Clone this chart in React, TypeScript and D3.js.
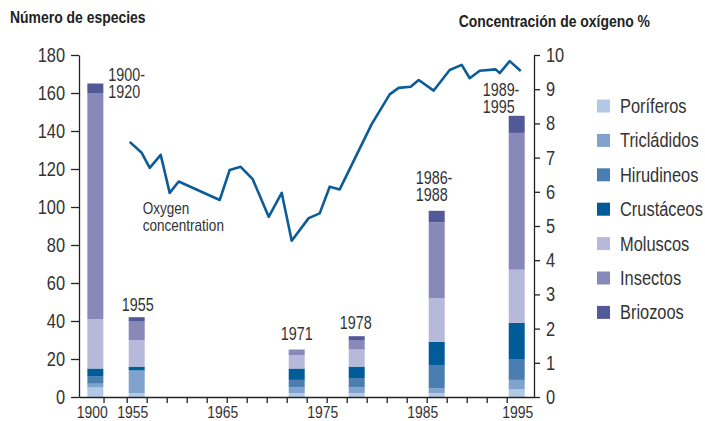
import React, { useRef, useEffect } from 'react';
import * as d3 from 'd3';

// periodos muestreados (una barra por periodo)
const periods = ['1900-1920', '1955', '1971', '1978', '1986-1988', '1989-1995'];
const barYears = [1900, 1956, 1972, 1978, 1986, 1994]; // donde cae el centro de cada barra

// numero de especies por grupo y periodo
const poriferos = [5, 2, 2, 2, 2, 4];
const tricladidos = [2, 12, 3, 3, 2.5, 5];
const hirudineos = [4, 0, 4, 5, 12, 11];
const crustaceos = [4, 2, 6, 6, 12.5, 19];
const moluscos = [26, 14, 7, 9, 23, 28];
const insectos = [119, 10, 3, 5, 40, 72];
const briozoos = [5, 2, 0, 2, 6, 9];

const groups = ['Poríferos', 'Tricládidos', 'Hirudineos', 'Crustáceos', 'Moluscos', 'Insectos', 'Briozoos'];
const groupColors = ['#b3c8e5', '#7fa3cc', '#4a7eb0', '#005c98', '#b6b9da', '#8888b9', '#515a96'];

// concentracion de oxigeno (%)
const oxyYears = [
	1955.3, 1956.5, 1957.3, 1958.4, 1959.3, 1960.2, 1964.3, 1965.3, 1966.4, 1967.6, 1969.2, 1970.5, 1971.5, 1973.2,
	1974.3, 1975.3, 1976.3, 1979.5, 1981.3, 1982.2, 1983.4, 1984.2, 1985.7, 1987.3, 1988.5, 1989.3, 1990.3, 1991.9,
	1992.3, 1993.3, 1994.4,
];
const oxygen = [
	7.46, 7.14, 6.7, 7.08, 5.97, 6.3, 5.76, 6.64, 6.73, 6.37, 5.27, 5.97, 4.57, 5.23, 5.37, 6.15, 6.07, 7.98, 8.85, 9.04,
	9.07, 9.27, 8.96, 9.56, 9.71, 9.32, 9.54, 9.58, 9.47, 9.82, 9.53,
];

const speciesTicks = [0, 20, 40, 60, 80, 100, 120, 140, 160, 180];
const oxygenTicks = [0, 1, 2, 3, 4, 5, 6, 7, 8, 9, 10];
const yearTicks = [
	1901, 1955, 1957, 1959, 1961, 1963, 1965, 1967, 1969, 1971, 1973, 1975, 1977, 1979, 1981, 1983, 1985, 1987, 1989,
	1991, 1993,
];
const yearLabels = [1900, 1955, 1965, 1975, 1985, 1995];

const FONT = "'Liberation Sans', Arial, sans-serif";
const INK = '#333';
const SQUEEZE = 0.82; // el original usa una letra condensada

function App() {
	const svgRef = useRef<SVGSVGElement>(null);

	useEffect(() => {
		const svg = d3.select(svgRef.current);
		svg.selectAll('*').remove();

		// eje x partido: 1900 aparte, luego 1953-1996
		const x = d3.scaleLinear().domain([1898, 1902, 1953.5, 1995.73]).range([79, 111.7, 111.7, 534]);
		const yL = d3.scaleLinear().domain([0, 180]).range([397, 55]);
		const yR = d3.scaleLinear().domain([0, 10]).range([397, 55]);
		const barW = 16;

		const series = [poriferos, tricladidos, hirudineos, crustaceos, moluscos, insectos, briozoos];
		const table = periods.map((p, i) => {
			const row: any = { period: p, year: barYears[i] };
			groups.forEach((g, j) => (row[g] = series[j][i]));
			return row;
		});
		const stacked = d3.stack().keys(groups)(table);

		svg
			.append('g')
			.selectAll('g')
			.data(stacked)
			.join('g')
			.attr('fill', (_, i) => groupColors[i])
			.selectAll('rect')
			.data((d) => d)
			.join('rect')
			.attr('x', (d: any) => x(d.data.year) - barW / 2)
			.attr('width', barW)
			.attr('y', (d) => yL(d[1]))
			.attr('height', (d) => yL(d[0]) - yL(d[1]));

		// linea de oxigeno
		const lineGen = d3
			.line<number>()
			.x((_, i) => x(oxyYears[i]))
			.y((d) => yR(d));
		svg
			.append('path')
			.datum(oxygen)
			.attr('fill', 'none')
			.attr('stroke', '#0b5c97')
			.attr('stroke-width', 2.6)
			.attr('stroke-linejoin', 'round')
			.attr('d', lineGen);

		// ejes
		const styleAxis = (g: any, size: number) => {
			g.selectAll('path, line').attr('stroke', '#222').attr('stroke-width', 1.3);
			g.selectAll('text').attr('font-family', FONT).attr('font-size', size).attr('fill', INK);
		};
		svg
			.append('g')
			.attr('transform', 'translate(79,0)')
			.call(d3.axisLeft(yL).tickValues(speciesTicks).tickSize(8).tickPadding(6).tickSizeOuter(0))
			.call((g) => styleAxis(g, 20));
		svg
			.append('g')
			.attr('transform', 'translate(534,0)')
			.call(d3.axisRight(yR).tickValues(oxygenTicks).tickSize(6).tickPadding(6).tickSizeOuter(0))
			.call((g) => styleAxis(g, 20));
		svg
			.append('g')
			.attr('transform', 'translate(0,397)')
			.call(
				d3
					.axisBottom(x)
					.tickValues(yearTicks)
					.tickSize(6)
					.tickSizeOuter(0)
					.tickFormat(() => '')
			)
			.call((g) => styleAxis(g, 16));

		svg
			.append('g')
			.selectAll('text')
			.data(yearLabels)
			.join('text')
			.attr('x', (d) => x(d) + (d === 1955 ? 6 : d === 1995 ? -9 : d === 1900 ? -3 : -4))
			.attr('y', 418)
			.attr('text-anchor', 'middle')
			.attr('font-family', FONT)
			.attr('font-size', 17)
			.attr('fill', INK)
			.text((d) => d);

		// titulos
		svg
			.append('text')
			.attr('x', 10)
			.attr('y', 23)
			.attr('font-family', FONT)
			.attr('font-weight', 'bold')
			.attr('font-size', 17)
			.attr('fill', '#222')
			.text('Número de especies');
		svg
			.append('text')
			.attr('x', 650)
			.attr('y', 27)
			.attr('text-anchor', 'end')
			.attr('font-family', FONT)
			.attr('font-weight', 'bold')
			.attr('font-size', 17)
			.attr('fill', '#222')
			.text('Concentración de oxígeno %');

		// etiquetas de las barras
		const totals = table.map((r) => groups.reduce((s, g) => s + r[g], 0));
		const annot = [
			{ lines: ['1900-', '1920'], dx: 13, dy: -2.5, anchor: 'start' },
			{ lines: ['1955'], dx: 1, dy: -6, anchor: 'middle' },
			{ lines: ['1971'], dx: 0, dy: -10, anchor: 'middle' },
			{ lines: ['1978'], dx: -1, dy: -7, anchor: 'middle' },
			{ lines: ['1986-', '1988'], dx: -21, dy: -27, anchor: 'start' },
			{ lines: ['1989-', '1995'], dx: -34, dy: -20, anchor: 'start' },
		];
		annot.forEach((a, i) => {
			const t = svg
				.append('text')
				.attr('x', x(barYears[i]) + a.dx)
				.attr('y', yL(totals[i]) + a.dy)
				.attr('text-anchor', a.anchor)
				.attr('font-family', FONT)
				.attr('font-size', 17.5)
				.attr('fill', INK);
			a.lines.forEach((l, k) =>
				t
					.append('tspan')
					.attr('x', x(barYears[i]) + a.dx)
					.attr('dy', k === 0 ? 0 : 17)
					.text(l)
			);
		});

		const oxyLabel = svg
			.append('text')
			.attr('font-family', FONT)
			.attr('font-size', 16.5)
			.attr('fill', INK)
			.attr('x', x(1956.6))
			.attr('y', yR(5.35));
		['Oxygen', 'concentration'].forEach((l, k) =>
			oxyLabel
				.append('tspan')
				.attr('x', x(1956.6))
				.attr('dy', k === 0 ? 0 : 17)
				.text(l)
		);

		// leyenda
		const legend = svg
			.append('g')
			.selectAll('g')
			.data(groups)
			.join('g')
			.attr('transform', (_, i) => `translate(597,${106 + i * 34.4})`);
		legend
			.append('rect')
			.attr('x', 0)
			.attr('y', -6.5)
			.attr('width', 13)
			.attr('height', 13)
			.attr('fill', (_, i) => groupColors[i]);
		legend
			.append('text')
			.attr('x', 23)
			.attr('y', 7)
			.attr('font-family', FONT)
			.attr('font-size', 20)
			.attr('fill', INK)
			.text((d) => d);

		// condensar todos los textos
		svg.selectAll('text, tspan').each(function (this: any) {
			if (this.tagName === 'text' && this.querySelector('tspan')) return;
			const w = this.getComputedTextLength();
			if (!w) return;
			this.setAttribute('textLength', w * SQUEEZE);
			this.setAttribute('lengthAdjust', 'spacingAndGlyphs');
		});
	}, []);

	return (
		<svg
			ref={svgRef}
			width={705}
			height={421}
			style={{ position: 'absolute', left: 0, top: 0, background: '#fff' }}
		/>
	);
}

export default App;
